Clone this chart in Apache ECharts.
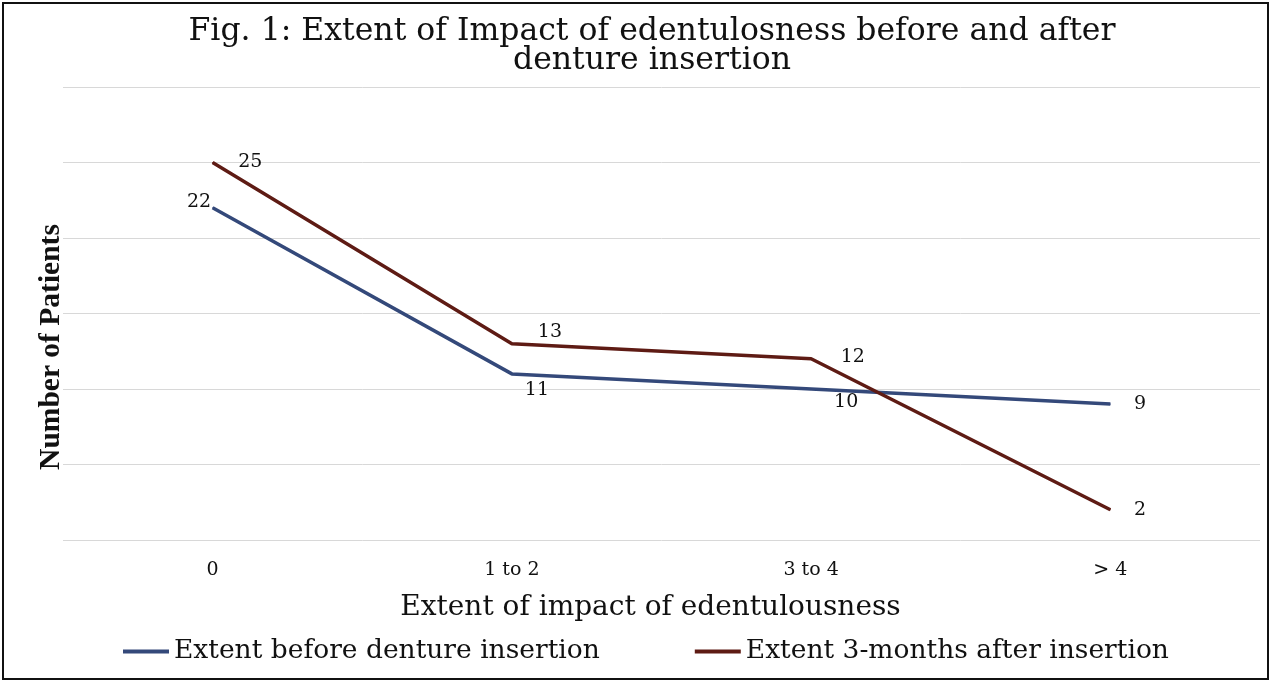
<!DOCTYPE html>
<html><head><meta charset="utf-8">
<script src="https://cdn.jsdelivr.net/npm/echarts@6/dist/echarts.min.js"></script>
<style>html,body{margin:0;padding:0;background:#fff}#c{width:1272px;height:683px}</style>
</head><body><div id="c"></div>
<script>
const categories = ['0', '1 to 2', '3 to 4', '> 4'];
const beforeValues = [22, 11, 10, 9];
const afterValues = [25, 13, 12, 2];
const seriesNames = ['Extent before denture insertion', 'Extent 3-months after insertion'];
const yAxisTitle = 'Number of Patients';
const beforeLabelPos = ['left', 'bottom', 'bottom', 'right'];
const afterLabelPos = ['right', 'top', 'right', 'right'];

const SERIF = '"DejaVu Serif", serif';
const TIMES = '"Liberation Serif", "Times New Roman", serif';
const chart = echarts.init(document.getElementById('c'));
function mk(vals, pos, offs) {
  return vals.map((v, i) => ({ value: v, label: { position: pos[i], offset: offs[i] } }));
}
chart.setOption({
  backgroundColor: '#fff',
  animation: false,
  title: {
    text: 'Fig. 1: Extent of Impact of edentulosness before and after\ndenture insertion',
    left: 652, top: 17, padding: 0, textAlign: 'center',
    textStyle: { fontFamily: SERIF, fontSize: 31.5, fontWeight: 'normal', color: '#111', lineHeight: 29 }
  },
  legend: {
    bottom: 13, left: 118, itemGap: 95, itemWidth: 46, itemHeight: 4,
    icon: 'rect',
    textStyle: { fontFamily: SERIF, fontSize: 26.5, color: '#111' },
    data: seriesNames
  },
  grid: { left: 63, right: 12, top: 87, bottom: 143 },
  xAxis: {
    type: 'category', data: categories, boundaryGap: true,
    axisLine: { show: false }, axisTick: { show: false },
    axisLabel: { fontFamily: SERIF, fontSize: 19, color: '#111', margin: 21 },
    name: 'Extent of impact of edentulousness', nameLocation: 'middle', nameGap: 54,
    nameTextStyle: { fontFamily: SERIF, fontSize: 28, color: '#111', padding: [0, 22, 0, 0] }
  },
  yAxis: {
    type: 'value', min: 0, max: 30, interval: 5,
    axisLabel: { show: false }, axisLine: { show: false }, axisTick: { show: false },
    splitLine: { lineStyle: { color: '#d8d8d8', width: 1 } }
  },
  graphic: [{
    type: 'rect', shape: { x: 3, y: 3, width: 1265, height: 676 },
    style: { fill: 'none', stroke: '#111', lineWidth: 2 }, silent: true
  }, {
    type: 'text', x: 51, y: 347, rotation: Math.PI / 2, silent: true,
    style: { text: yAxisTitle, fontFamily: TIMES, fontSize: 29.5, fontWeight: 'bold', fill: '#111', align: 'center', verticalAlign: 'middle' }
  }],
  series: [
    {
      name: seriesNames[0], type: 'line', data: mk(beforeValues, beforeLabelPos, [[5, -6], [25, 0], [35, -3], [17, 0]]),
      symbol: 'circle', symbolSize: 1, showSymbol: true,
      lineStyle: { color: '#34497a', width: 3.5 }, itemStyle: { color: '#34497a' },
      label: { show: true, fontFamily: SERIF, fontSize: 19, color: '#111', distance: 6 }
    },
    {
      name: seriesNames[1], type: 'line', data: mk(afterValues, afterLabelPos, [[19, 0], [38, 4], [23, -2], [17, 0]]),
      symbol: 'circle', symbolSize: 1, showSymbol: true,
      lineStyle: { color: '#5e1b14', width: 3.5 }, itemStyle: { color: '#5e1b14' },
      label: { show: true, fontFamily: SERIF, fontSize: 19, color: '#111', distance: 6 }
    }
  ]
});
</script></body></html>
